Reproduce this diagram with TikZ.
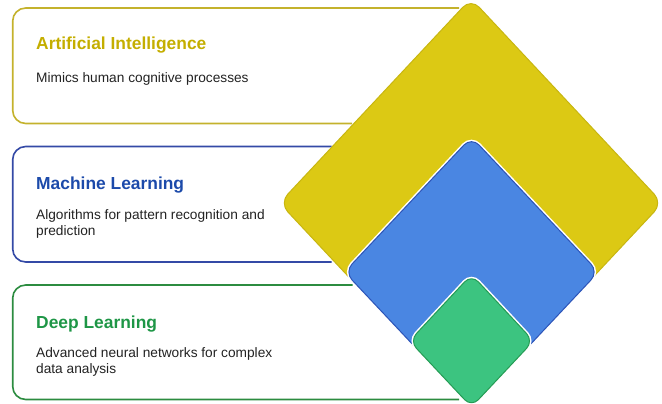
\documentclass[tikz,border=0pt]{standalone}
\usepackage{fontspec}
\setmainfont{Liberation Sans}
\definecolor{aiTxt}{RGB}{196,174,0}
\definecolor{aiLine}{RGB}{196,178,44}
\definecolor{aiFill}{RGB}{220,201,20}
\definecolor{aiEdge}{RGB}{200,182,16}
\definecolor{mlTxt}{RGB}{28,74,170}
\definecolor{mlLine}{RGB}{52,74,166}
\definecolor{mlFill}{RGB}{74,134,226}
\definecolor{mlEdge}{RGB}{44,84,184}
\definecolor{dlTxt}{RGB}{30,150,70}
\definecolor{dlLine}{RGB}{44,140,64}
\definecolor{dlFill}{RGB}{60,196,128}
\definecolor{dlEdge}{RGB}{36,156,84}
\definecolor{bodyGray}{RGB}{34,34,34}
\newcommand\ttlfont{\fontsize{17.4}{20}\selectfont\bfseries}
\newcommand\bdyfont{\fontsize{13.7}{16}\selectfont}
\tikzset{
  headline/.style={anchor=base west, inner sep=0pt, font=\ttlfont},
  bodyline/.style={anchor=base west, inner sep=0pt, font=\bdyfont, text=bodyGray},
  frame/.style={line width=1.6pt, rounded corners=13pt},
  halo/.style={draw=white, line width=4pt},
  tile/.style={line width=1pt}
}
\begin{document}
\begin{tikzpicture}[x=1pt, y=-1pt]
\useasboundingbox (0,0) rectangle (662,404);

% open frames: each one runs from the left edge towards the diamond
\coordinate (aiTR) at (459,8);
\coordinate (aiBR) at (352,123.5);
\coordinate (mlTR) at (331.5,146.5);
\coordinate (mlBR) at (331.5,262);
\coordinate (dlTR) at (352.5,285);
\coordinate (dlBR) at (459,399.5);
\draw[frame, aiLine] (aiTR) -- (12.7,8) -- (12.7,123.5) -- (aiBR);
\draw[frame, mlLine] (mlTR) -- (12.7,146.5) -- (12.7,262) -- (mlBR);
\draw[frame, dlLine] (dlTR) -- (12.7,285) -- (12.7,399.5) -- (dlBR);

% labels
\node[headline, text=aiTxt] (aiT) at (36,49.5) {Artificial Intelligence};
\node[bodyline] (aiB1) at (36,82.5) {Mimics human cognitive processes};
\node[headline, text=mlTxt] (mlT) at (36,189.5) {Machine Learning};
\node[bodyline] (mlB1) at (36,219) {Algorithms for pattern recognition and};
\node[bodyline] (mlB2) at (36,235) {prediction};
\node[headline, text=dlTxt] (dlT) at (36,328) {Deep Learning};
\node[bodyline] (dlB1) at (36,357) {Advanced neural networks for complex};
\node[bodyline] (dlB2) at (36,373) {data analysis};

% nested diamonds sharing a bottom corner
\path[tile, fill=aiFill, draw=aiEdge, rounded corners=12pt]
  (471,-1.5) -- (662.5,203) -- (471,407.5) -- (279.5,203) -- cycle;
\path[halo, rounded corners=11pt]
  (471.5,137) -- (598.5,272) -- (471.5,407) -- (344.5,272) -- cycle;
\path[tile, fill=mlFill, draw=mlEdge, rounded corners=11pt]
  (471.5,137) -- (598.5,272) -- (471.5,407) -- (344.5,272) -- cycle;
\path[halo, rounded corners=10pt]
  (471.5,274.5) -- (533.5,341) -- (471.5,407) -- (409.5,341) -- cycle;
\path[tile, fill=dlFill, draw=dlEdge, rounded corners=10pt]
  (471.5,274.5) -- (533.5,341) -- (471.5,407) -- (409.5,341) -- cycle;
\end{tikzpicture}
\end{document}
